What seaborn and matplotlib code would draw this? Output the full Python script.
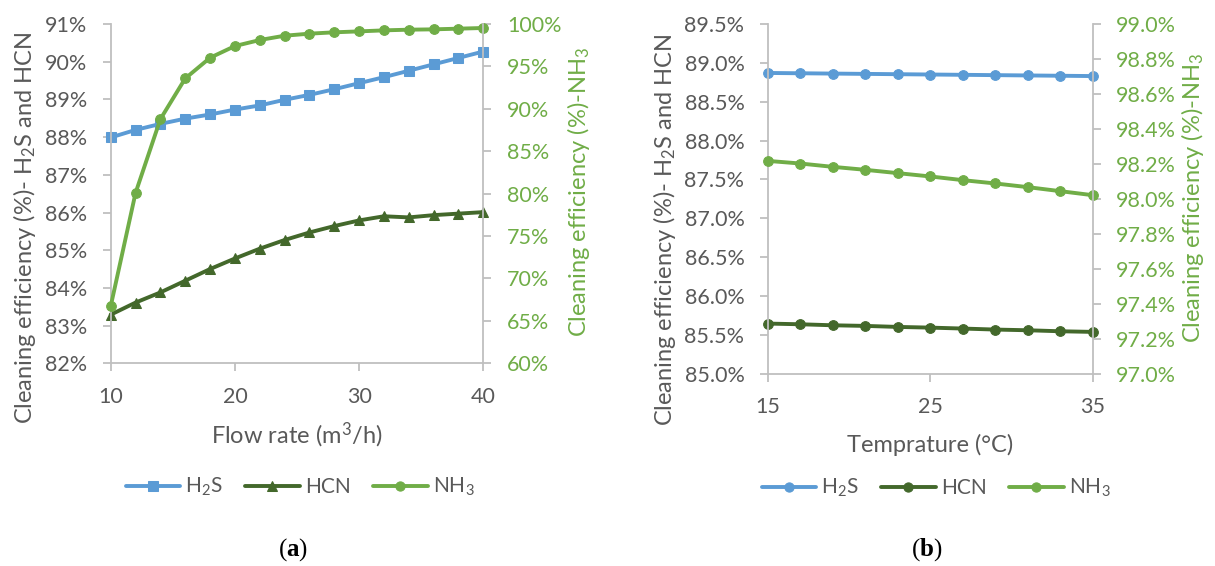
import matplotlib
matplotlib.use("Agg")
import matplotlib.pyplot as plt
from matplotlib.ticker import FixedLocator, FuncFormatter
import seaborn as sns
import numpy as np

# ---- data: (a) flow-rate study ----
flow_rate = [10, 12, 14, 16, 18, 20, 22, 24, 26, 28, 30, 32, 34, 36, 38, 40]
h2s_flow = [87.99, 88.19, 88.35, 88.49, 88.60, 88.73, 88.84, 88.99,
            89.12, 89.27, 89.43, 89.59, 89.76, 89.93, 90.10, 90.27]
hcn_flow = [83.29, 83.61, 83.88, 84.19, 84.50, 84.78, 85.04, 85.27,
            85.47, 85.64, 85.79, 85.90, 85.87, 85.93, 85.97, 86.01]
nh3_flow = [66.73, 80.08, 88.78, 93.58, 96.02, 97.40, 98.11, 98.62,
            98.86, 99.02, 99.13, 99.25, 99.33, 99.37, 99.45, 99.53]

# ---- data: (b) temperature study ----
temperature = [15, 17, 19, 21, 23, 25, 27, 29, 31, 33, 35]
h2s_temp = [88.870, 88.866, 88.862, 88.858, 88.854, 88.850,
            88.846, 88.842, 88.838, 88.834, 88.830]
hcn_temp = [85.645, 85.636, 85.623, 85.615, 85.602, 85.593,
            85.581, 85.568, 85.559, 85.546, 85.538]
nh3_temp = [98.217, 98.202, 98.183, 98.166, 98.147, 98.128,
            98.107, 98.088, 98.067, 98.044, 98.021]

# tick values
flow_xticks = [10, 20, 30, 40]
flow_left_ticks = [82, 83, 84, 85, 86, 87, 88, 89, 90, 91]
flow_right_ticks = [60, 65, 70, 75, 80, 85, 90, 95, 100]
temp_xticks = [15, 25, 35]
temp_left_ticks = [85.0, 85.5, 86.0, 86.5, 87.0, 87.5, 88.0, 88.5, 89.0, 89.5]
temp_right_ticks = [97.0, 97.2, 97.4, 97.6, 97.8, 98.0, 98.2, 98.4, 98.6, 98.8, 99.0]

sns.set_theme(style="white")
plt.rcParams["font.family"] = ["Lato", "DejaVu Sans"]
plt.rcParams["mathtext.fontset"] = "custom"
plt.rcParams["mathtext.default"] = "regular"
plt.rcParams["mathtext.bf"] = "Liberation Serif:bold"

C_H2S = "#5B9BD5"
C_HCN = "#43682B"
C_NH3 = "#70AD47"
C_TXT = "#595959"
C_AX = "#BFBFBF"
FS_TICK = 15.5
FS_LABEL = 17
FS_LEG = 15

W, H = 1215, 566
fig = plt.figure(figsize=(W / 100, H / 100), dpi=100)


def box(x0, y0, x1, y1):
    return [x0 / W, 1 - y1 / H, (x1 - x0) / W, (y1 - y0) / H]


def style_axes(ax, tw, xticks, lticks, rticks, lfmt, rfmt, xlim, llim, rlim):
    ax.set_xlim(*xlim)
    ax.set_ylim(*llim)
    tw.set_ylim(*rlim)
    ax.xaxis.set_major_locator(FixedLocator(xticks))
    ax.yaxis.set_major_locator(FixedLocator(lticks))
    tw.yaxis.set_major_locator(FixedLocator(rticks))
    ax.yaxis.set_major_formatter(FuncFormatter(lambda v, p: lfmt.format(v)))
    tw.yaxis.set_major_formatter(FuncFormatter(lambda v, p: rfmt.format(v)))
    for a in (ax, tw):
        for s in a.spines.values():
            s.set_color(C_AX)
            s.set_linewidth(1.3)
        a.spines["top"].set_visible(False)
        a.grid(False)
    tw.spines["left"].set_visible(False)
    tw.spines["bottom"].set_visible(False)
    ax.spines["right"].set_visible(False)
    ax.tick_params(axis="both", direction="out", length=6, width=1.3,
                   color=C_AX, labelcolor=C_TXT, labelsize=FS_TICK, pad=11,
                   left=True, bottom=True)
    tw.tick_params(axis="y", direction="out", length=6, width=1.3,
                   color=C_AX, labelcolor=C_NH3, labelsize=FS_TICK, pad=11,
                   right=True)
    ax.set_xlabel("")
    ax.set_ylabel("")
    tw.set_ylabel("")


def draw(ax, tw, x, h2s, hcn, nh3, mk_h2s, mk_hcn, ms):
    kw = dict(linewidth=2.8, markersize=ms, legend=False)
    sns.lineplot(x=x, y=h2s, ax=ax, color=C_H2S, marker=mk_h2s,
                 markeredgecolor=C_H2S, label="H$_2$S", **kw)
    sns.lineplot(x=x, y=hcn, ax=ax, color=C_HCN, marker=mk_hcn,
                 markeredgecolor=C_HCN, label="HCN", **kw)
    sns.lineplot(x=x, y=nh3, ax=tw, color=C_NH3, marker="o",
                 markeredgecolor=C_NH3, label="NH$_3$", **kw)
    for a in (ax, tw):
        for ln in a.get_lines():
            ln.set_clip_on(False)
    return ax.get_lines() + tw.get_lines()


# ---- panel (a) ----
ax1 = fig.add_axes(box(110.7, 24, 483.3, 363.3))
tw1 = ax1.twinx()
h1 = draw(ax1, tw1, flow_rate, h2s_flow, hcn_flow, nh3_flow, "s", "^", 7)
style_axes(ax1, tw1, flow_xticks, flow_left_ticks, flow_right_ticks,
           "{:.0f}%", "{:.0f}%", (10, 40), (82, 91), (60, 100))

# ---- panel (b) ----
ax2 = fig.add_axes(box(768, 24, 1092.7, 373.7))
tw2 = ax2.twinx()
h2 = draw(ax2, tw2, temperature, h2s_temp, hcn_temp, nh3_temp, "o", "o", 7)
style_axes(ax2, tw2, temp_xticks, temp_left_ticks, temp_right_ticks,
           "{:.1f}%", "{:.1f}%", (15, 35), (85.0, 89.5), (97.0, 99.0))


def ftext(x, y, s, **kw):
    fig.text(x / W, 1 - y / H, s, ha="center", va="center", **kw)


# axis titles
ftext(297, 435, "Flow rate (m$^3$/h)", fontsize=FS_LABEL, color=C_TXT)
ftext(930, 445, "Temprature (°C)", fontsize=FS_LABEL, color=C_TXT)
ftext(25, 228, "Cleaning efficiency (%)- H$_2$S and HCN", fontsize=FS_LABEL,
      color=C_TXT, rotation=90)
ftext(578, 192, "Cleaning efficiency (%)-NH$_3$", fontsize=FS_LABEL,
      color=C_NH3, rotation=90)
ftext(665, 230, "Cleaning efficiency (%)- H$_2$S and HCN", fontsize=FS_LABEL,
      color=C_TXT, rotation=90)
ftext(1193, 198, "Cleaning efficiency (%)-NH$_3$", fontsize=FS_LABEL,
      color=C_NH3, rotation=90)

# legends
for handles, cx, cy in ((h1, 300, 487), (h2, 936, 488)):
    leg = fig.legend(handles=handles, labels=[h.get_label() for h in handles],
                     loc="center", bbox_to_anchor=(cx / W, 1 - cy / H),
                     ncol=3, frameon=False, fontsize=FS_LEG, handlelength=2.6,
                     handletextpad=0.25, columnspacing=1.1, markerscale=0.95)
    for t in leg.get_texts():
        t.set_color(C_TXT)

# panel captions
ftext(293, 550, r"($\mathbf{a}$)", fontsize=18, color="black",
      family="Liberation Serif")
ftext(927, 550, r"($\mathbf{b}$)", fontsize=18, color="black",
      family="Liberation Serif")

fig.savefig("out.png", dpi=100)
